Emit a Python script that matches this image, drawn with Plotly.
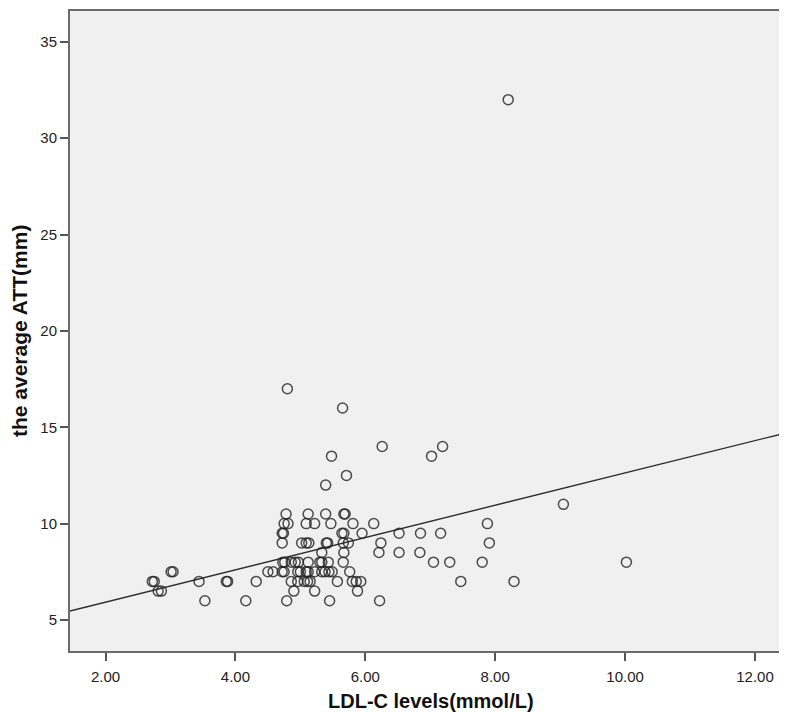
import plotly.graph_objects as go

# LDL-C levels (mmol/L) and average ATT (mm)
ldl = [
    2.72, 2.75, 2.81, 2.86, 3.01, 3.04, 3.44, 3.53, 3.86, 3.88, 4.16, 4.32, 4.50,
    4.78, 5.12, 5.39, 5.67, 5.69,
    4.75, 4.81, 5.09, 5.22, 5.47, 5.81, 6.13, 7.88,
    4.72, 4.74, 5.64, 5.67, 5.95, 6.52, 6.85, 7.16,
    4.72, 5.02, 5.09, 5.13, 5.40, 5.42, 5.66, 5.74, 6.24, 7.91,
    5.33, 5.67, 6.21, 6.52, 6.84,
    4.73, 4.76, 4.86, 4.92, 4.97, 5.12, 5.30, 5.33, 5.43, 5.66, 7.05, 7.30, 7.80, 10.02,
    4.58, 4.72, 4.75, 4.96, 5.00, 5.09, 5.12, 5.22, 5.33, 5.38, 5.44, 5.49, 5.76,
    4.86, 4.96, 5.06, 5.11, 5.15, 5.57, 5.80, 5.86, 5.93, 7.47, 8.29,
    4.90, 5.22, 5.88,
    4.79, 5.45, 6.22,
    9.05, 5.39, 5.71, 5.48, 7.02, 6.26, 7.19, 5.65, 4.80, 8.20,
]
att = [
    7.0, 7.0, 6.5, 6.5, 7.5, 7.5, 7.0, 6.0, 7.0, 7.0, 6.0, 7.0, 7.5,
    10.5, 10.5, 10.5, 10.5, 10.5,
    10.0, 10.0, 10.0, 10.0, 10.0, 10.0, 10.0, 10.0,
    9.5, 9.5, 9.5, 9.5, 9.5, 9.5, 9.5, 9.5,
    9.0, 9.0, 9.0, 9.0, 9.0, 9.0, 9.0, 9.0, 9.0, 9.0,
    8.5, 8.5, 8.5, 8.5, 8.5,
    8.0, 8.0, 8.0, 8.0, 8.0, 8.0, 8.0, 8.0, 8.0, 8.0, 8.0, 8.0, 8.0, 8.0,
    7.5, 7.5, 7.5, 7.5, 7.5, 7.5, 7.5, 7.5, 7.5, 7.5, 7.5, 7.5, 7.5,
    7.0, 7.0, 7.0, 7.0, 7.0, 7.0, 7.0, 7.0, 7.0, 7.0, 7.0,
    6.5, 6.5, 6.5,
    6.0, 6.0, 6.0,
    11.0, 12.0, 12.5, 13.5, 13.5, 14.0, 14.0, 16.0, 17.0, 32.0,
]

# Fit line as drawn in the reference (intercept, slope)
fit_intercept = 4.25
fit_slope = 0.838

x_title = "LDL-C levels(mmol/L)"
y_title = "the average ATT(mm)"

x_range = [1.453, 12.57]
y_range = [3.39, 36.6]

fit_x = x_range
fit_y = [fit_intercept + fit_slope * v for v in fit_x]

FONT = "Liberation Sans, Arial, sans-serif"

fig = go.Figure()
fig.add_trace(go.Scatter(
    x=fit_x, y=fit_y, mode="lines",
    line=dict(color="#2e2e2e", width=1.4),
    hoverinfo="skip", showlegend=False,
))
fig.add_trace(go.Scatter(
    x=ldl, y=att, mode="markers",
    marker=dict(symbol="circle-open", size=10,
                color="rgba(35,35,35,0.8)", line=dict(width=1.5)),
    showlegend=False,
))

axis_common = dict(
    automargin=False,
    showline=True, mirror=True, linecolor="#6b6b6b", linewidth=2,
    ticks="outside", ticklen=8, tickwidth=1.5, tickcolor="#555555",
    showgrid=False, zeroline=False,
    tickfont=dict(family=FONT, size=15, color="#222222"),
)

fig.update_layout(
    template="none",
    width=787, height=712,
    margin=dict(l=62, r=3, t=3, b=69, autoexpand=False),
    paper_bgcolor="white", plot_bgcolor="#f0f0f0",
    font=dict(family=FONT, color="#222222"),
    xaxis=dict(range=x_range, tick0=0, dtick=2, tickformat=".2f",
               ticklabelstandoff=3, **axis_common),
    yaxis=dict(range=y_range, tick0=0, dtick=5, **axis_common),
    annotations=[
        dict(text="<b>" + x_title + "</b>", xref="paper", yref="paper",
             x=0.5, y=0, yshift=-50, xanchor="center", yanchor="middle",
             showarrow=False, font=dict(family=FONT, size=20, color="#111111")),
        dict(text="<b>" + y_title + "</b>", xref="paper", yref="paper",
             x=0, y=0.5, xshift=-51, xanchor="center", yanchor="middle",
             textangle=-90, showarrow=False,
             font=dict(family=FONT, size=21, color="#111111")),
    ],
)

fig.write_html("out.html")
